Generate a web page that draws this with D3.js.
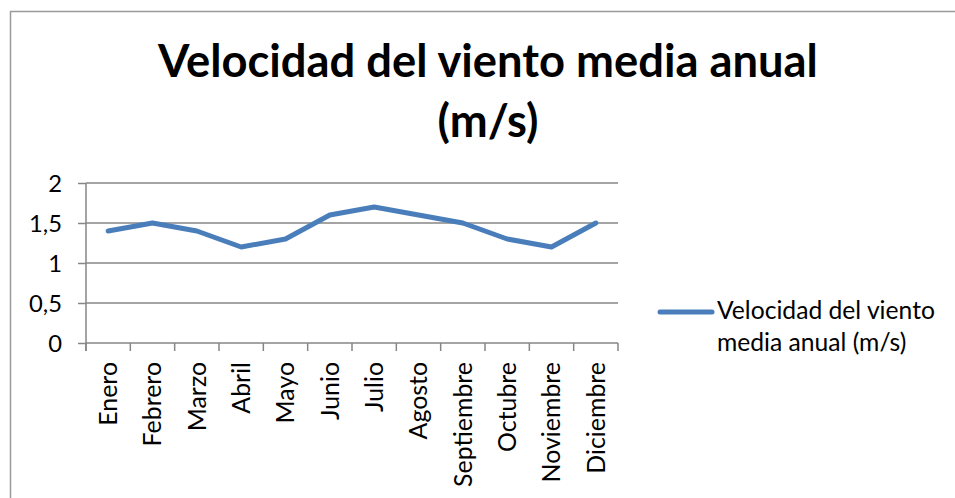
<!DOCTYPE html>
<html>
<head>
<meta charset="utf-8">
<script src="https://cdn.jsdelivr.net/npm/d3@7"></script>
<style>
  html, body { margin: 0; padding: 0; background: #fff; }
  svg { display: block; }
</style>
</head>
<body>
<svg id="chart" width="955" height="498"></svg>
<script>
// datos
const meses = ["Enero", "Febrero", "Marzo", "Abril", "Mayo", "Junio", "Julio",
  "Agosto", "Septiembre", "Octubre", "Noviembre", "Diciembre"];
const velocidad = [1.4, 1.5, 1.4, 1.2, 1.3, 1.6, 1.7, 1.6, 1.5, 1.3, 1.2, 1.5];
const yTicks = [0, 0.5, 1, 1.5, 2];
const tituloLineas = ["Velocidad del viento media anual", "(m/s)"];
const leyendaLineas = ["Velocidad del viento", "media anual (m/s)"];

const svg = d3.select("#chart");
const plot = { left: 86, right: 618, top: 183, bottom: 343 };
const azul = "#4a7ebb";
const gris = "#868686";
const calibri = "Lato, 'Open Sans', sans-serif";

// mide un texto de prueba y devuelve el tamaño que da el ancho buscado
function ajustar(texto, base, anchoBuscado, negrita) {
  const t = svg.append("text")
    .attr("font-family", calibri)
    .attr("font-size", base)
    .attr("font-weight", negrita ? "bold" : "normal")
    .text(texto);
  const w = t.node().getComputedTextLength();
  t.remove();
  return base * anchoBuscado / w;
}

// marco exterior (recortado a la derecha y abajo como en el original)
svg.append("rect")
  .attr("x", 10.5).attr("y", 11.5)
  .attr("width", 1000).attr("height", 600)
  .attr("fill", "none")
  .attr("stroke", "#9a9a9a")
  .attr("stroke-width", 1.5);

const x = d3.scaleBand().domain(meses).range([plot.left, plot.right]);
const y = d3.scaleLinear().domain([0, 2]).range([plot.bottom, plot.top]);

// líneas de división horizontales
svg.append("g")
  .selectAll("line")
  .data(yTicks)
  .join("line")
  .attr("x1", plot.left).attr("x2", plot.right)
  .attr("y1", d => y(d)).attr("y2", d => y(d))
  .attr("stroke", gris)
  .attr("stroke-width", 1.5);

// eje Y
const yAxis = svg.append("g")
  .attr("transform", `translate(${plot.left},0)`)
  .call(d3.axisLeft(y).tickValues(yTicks).tickSize(8).tickPadding(16)
    .tickFormat(d => String(d).replace(".", ",")));
yAxis.select(".domain").attr("stroke", gris).attr("stroke-width", 1.5)
  .attr("d", `M0,${plot.top}V${plot.bottom + 8}`);
yAxis.selectAll(".tick line").attr("stroke", gris).attr("stroke-width", 1.5);
yAxis.selectAll(".tick text")
  .attr("font-family", calibri)
  .attr("font-size", ajustar("1,5", 24, 33))
  .attr("fill", "#000")
  .attr("dy", "0.34em");

// eje X: marcas entre categorías
const bordes = meses.map(m => x(m)).concat([plot.right]);
svg.append("g")
  .selectAll("line")
  .data(bordes)
  .join("line")
  .attr("x1", d => d).attr("x2", d => d)
  .attr("y1", plot.bottom).attr("y2", plot.bottom + 8)
  .attr("stroke", gris)
  .attr("stroke-width", 1.5);

svg.append("g")
  .selectAll("text")
  .data(meses)
  .join("text")
  .attr("transform", d => `translate(${x(d) + x.bandwidth() / 2},${plot.bottom + 19}) rotate(-90)`)
  .attr("text-anchor", "end")
  .attr("dy", "0.36em")
  .attr("font-family", calibri)
  .attr("font-size", ajustar("Septiembre", 24, 125))
  .attr("fill", "#000")
  .text(d => d);

// serie
const linea = d3.line()
  .x((d, i) => x(meses[i]) + x.bandwidth() / 2)
  .y(d => y(d));

svg.append("path")
  .datum(velocidad)
  .attr("d", linea)
  .attr("fill", "none")
  .attr("stroke", azul)
  .attr("stroke-width", 5)
  .attr("stroke-linejoin", "round")
  .attr("stroke-linecap", "round");

// título
const titulo = svg.append("text")
  .attr("text-anchor", "middle")
  .attr("font-family", calibri)
  .attr("font-weight", "bold")
  .attr("font-size", ajustar(tituloLineas[0], 46, 660, true))
  .attr("fill", "#000");
titulo.selectAll("tspan")
  .data(tituloLineas)
  .join("tspan")
  .attr("x", 488)
  .attr("y", (d, i) => 77 + i * 60)
  .text(d => d);

// leyenda
svg.append("line")
  .attr("x1", 660).attr("x2", 712)
  .attr("y1", 312).attr("y2", 312)
  .attr("stroke", azul)
  .attr("stroke-width", 5)
  .attr("stroke-linecap", "round");

const leyenda = svg.append("text")
  .attr("font-family", calibri)
  .attr("font-size", ajustar(leyendaLineas[0], 24, 218))
  .attr("fill", "#000");
leyenda.selectAll("tspan")
  .data(leyendaLineas)
  .join("tspan")
  .attr("x", 717)
  .attr("y", (d, i) => 319 + i * 32)
  .text(d => d);
</script>
</body>
</html>
